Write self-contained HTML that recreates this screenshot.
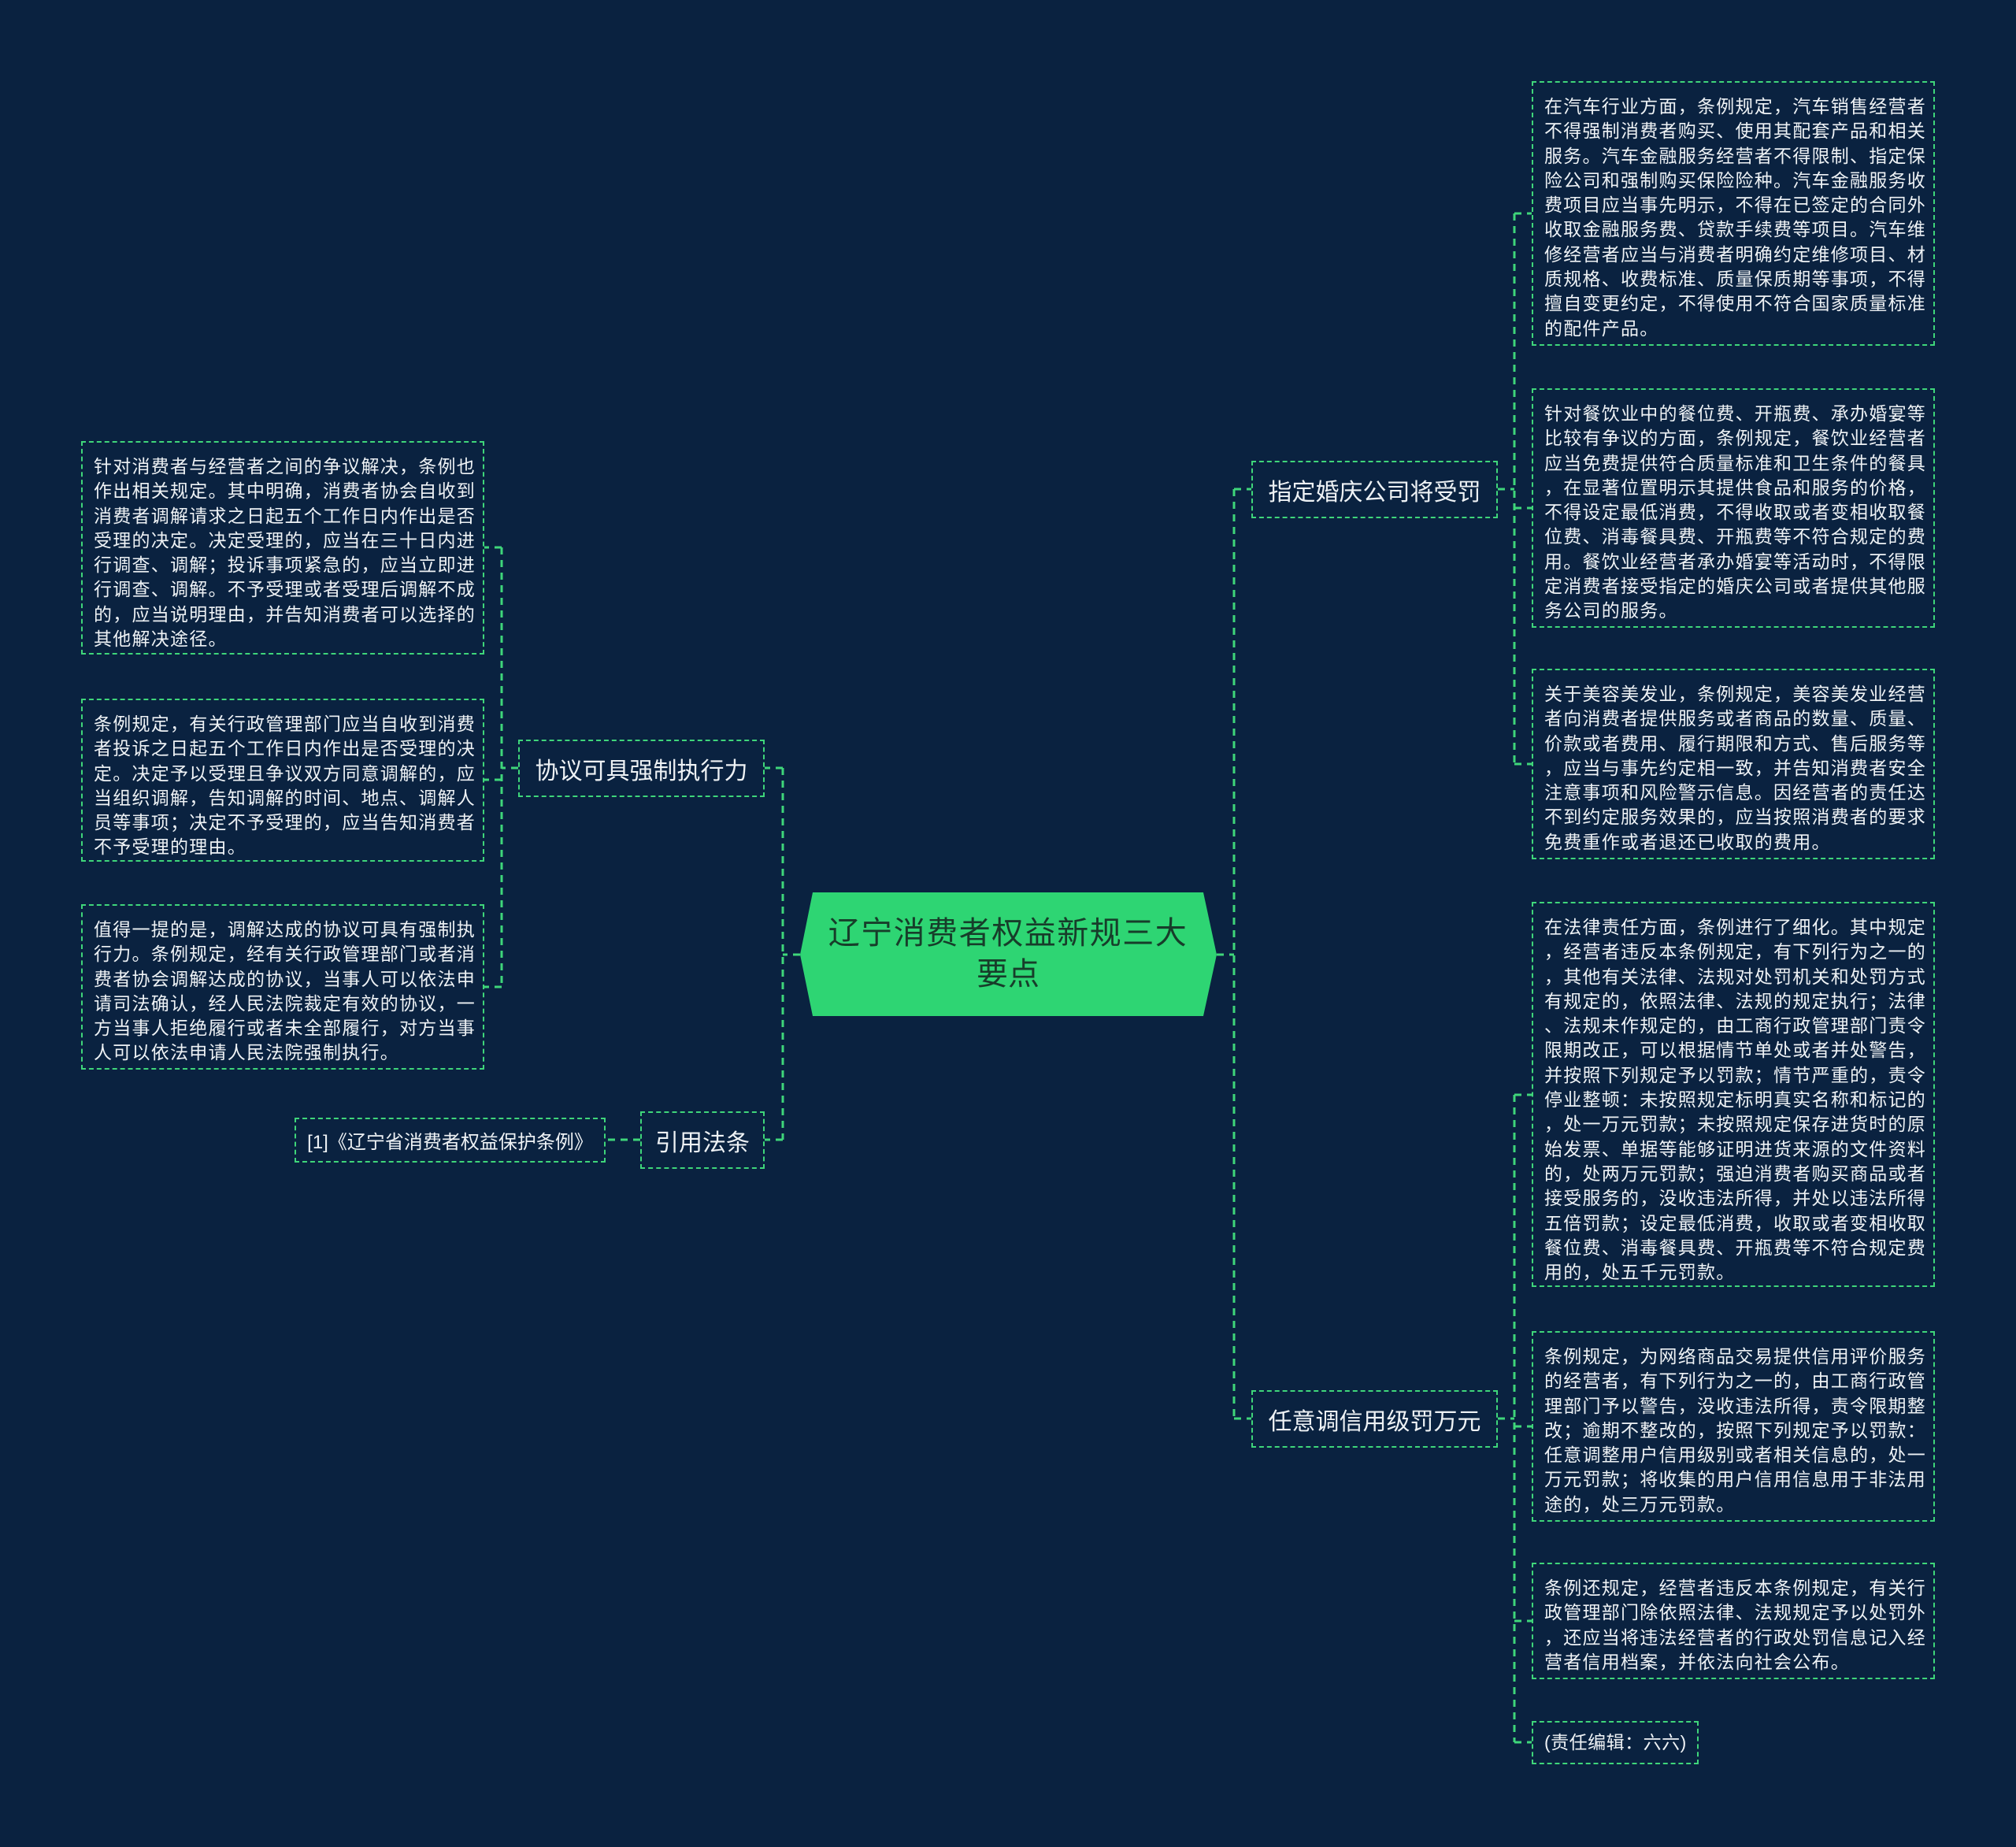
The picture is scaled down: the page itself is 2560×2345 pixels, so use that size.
<!DOCTYPE html>
<html><head><meta charset="utf-8"><style>
html,body{margin:0;padding:0;}
body{width:2560px;height:2345px;background:#0a2240;position:relative;overflow:hidden;font-family:"Liberation Sans","Noto Sans CJK SC",sans-serif;}
.b{position:absolute;box-sizing:border-box;border:2px dashed #3fd67a;color:#eef2f5;}
.leaf{font-size:23px;letter-spacing:1.25px;line-height:31.3px;padding:15px 0 0 14px;white-space:nowrap;}
.l1{font-size:30px;display:flex;align-items:center;justify-content:center;white-space:nowrap;}
svg{position:absolute;left:0;top:0;}
</style></head><body>
<svg width="2560" height="2345">
<g stroke="#3fd67a" stroke-width="3" fill="none" stroke-dasharray="9 7">
<path d="M1016 1212 H994 M994 975 V1447 M994 975 H971 M994 1447 H971"/>
<path d="M1545 1212 H1567 M1567 621 V1801 M1567 621 H1589 M1567 1801 H1589"/>
<path d="M1902 621 H1923 M1923 271 V970 M1923 271 H1945 M1923 645 H1945 M1923 970 H1945"/>
<path d="M1902 1801 H1923 M1923 1390 V2212 M1923 1390 H1945 M1923 1811 H1945 M1923 2058 H1945 M1923 2212 H1945"/>
<path d="M658 975 H637 M637 695 V1253 M637 695 H615 M637 990 H615 M637 1253 H615"/>
<path d="M813 1447 H769"/>
</g>
<polygon points="1032,1133 1528,1133 1545,1212 1528,1290 1032,1290 1016,1212" fill="#2ed573"/>
<text x="1280" y="1198" text-anchor="middle" font-size="40" letter-spacing="1.5" fill="#173d2a" font-family="Liberation Sans, Noto Sans CJK SC, sans-serif">辽宁消费者权益新规三大</text>
<text x="1280" y="1250" text-anchor="middle" font-size="40" fill="#173d2a" font-family="Liberation Sans, Noto Sans CJK SC, sans-serif">要点</text>
</svg>

<div class="b l1" style="left:1589px;top:585px;width:313px;height:73px;">指定婚庆公司将受罚</div>
<div class="b l1" style="left:1589px;top:1765px;width:313px;height:73px;">任意调信用级罚万元</div>
<div class="b l1" style="left:658px;top:939px;width:313px;height:73px;">协议可具强制执行力</div>
<div class="b l1" style="left:813px;top:1411px;width:158px;height:73px;">引用法条</div>
<div class="b l1" style="left:374px;top:1419px;width:395px;height:57px;font-size:24px;">[1]《辽宁省消费者权益保护条例》</div>

<div class="b leaf" style="left:1945px;top:103px;width:512px;height:336px;">在汽车行业方面，条例规定，汽车销售经营者<br>不得强制消费者购买、使用其配套产品和相关<br>服务。汽车金融服务经营者不得限制、指定保<br>险公司和强制购买保险险种。汽车金融服务收<br>费项目应当事先明示，不得在已签定的合同外<br>收取金融服务费、贷款手续费等项目。汽车维<br>修经营者应当与消费者明确约定维修项目、材<br>质规格、收费标准、质量保质期等事项，不得<br>擅自变更约定，不得使用不符合国家质量标准<br>的配件产品。</div>
<div class="b leaf" style="left:1945px;top:493px;width:512px;height:304px;">针对餐饮业中的餐位费、开瓶费、承办婚宴等<br>比较有争议的方面，条例规定，餐饮业经营者<br>应当免费提供符合质量标准和卫生条件的餐具<br>，在显著位置明示其提供食品和服务的价格，<br>不得设定最低消费，不得收取或者变相收取餐<br>位费、消毒餐具费、开瓶费等不符合规定的费<br>用。餐饮业经营者承办婚宴等活动时，不得限<br>定消费者接受指定的婚庆公司或者提供其他服<br>务公司的服务。</div>
<div class="b leaf" style="left:1945px;top:849px;width:512px;height:242px;">关于美容美发业，条例规定，美容美发业经营<br>者向消费者提供服务或者商品的数量、质量、<br>价款或者费用、履行期限和方式、售后服务等<br>，应当与事先约定相一致，并告知消费者安全<br>注意事项和风险警示信息。因经营者的责任达<br>不到约定服务效果的，应当按照消费者的要求<br>免费重作或者退还已收取的费用。</div>
<div class="b leaf" style="left:1945px;top:1145px;width:512px;height:489px;">在法律责任方面，条例进行了细化。其中规定<br>，经营者违反本条例规定，有下列行为之一的<br>，其他有关法律、法规对处罚机关和处罚方式<br>有规定的，依照法律、法规的规定执行；法律<br>、法规未作规定的，由工商行政管理部门责令<br>限期改正，可以根据情节单处或者并处警告，<br>并按照下列规定予以罚款；情节严重的，责令<br>停业整顿：未按照规定标明真实名称和标记的<br>，处一万元罚款；未按照规定保存进货时的原<br>始发票、单据等能够证明进货来源的文件资料<br>的，处两万元罚款；强迫消费者购买商品或者<br>接受服务的，没收违法所得，并处以违法所得<br>五倍罚款；设定最低消费，收取或者变相收取<br>餐位费、消毒餐具费、开瓶费等不符合规定费<br>用的，处五千元罚款。</div>
<div class="b leaf" style="left:1945px;top:1690px;width:512px;height:242px;">条例规定，为网络商品交易提供信用评价服务<br>的经营者，有下列行为之一的，由工商行政管<br>理部门予以警告，没收违法所得，责令限期整<br>改；逾期不整改的，按照下列规定予以罚款：<br>任意调整用户信用级别或者相关信息的，处一<br>万元罚款；将收集的用户信用信息用于非法用<br>途的，处三万元罚款。</div>
<div class="b leaf" style="left:1945px;top:1984px;width:512px;height:148px;">条例还规定，经营者违反本条例规定，有关行<br>政管理部门除依照法律、法规规定予以处罚外<br>，还应当将违法经营者的行政处罚信息记入经<br>营者信用档案，并依法向社会公布。</div>
<div class="b leaf" style="left:1945px;top:2185px;width:212px;height:55px;padding-top:10px;letter-spacing:0.5px;">(责任编辑：六六)</div>

<div class="b leaf" style="left:103px;top:560px;width:512px;height:271px;">针对消费者与经营者之间的争议解决，条例也<br>作出相关规定。其中明确，消费者协会自收到<br>消费者调解请求之日起五个工作日内作出是否<br>受理的决定。决定受理的，应当在三十日内进<br>行调查、调解；投诉事项紧急的，应当立即进<br>行调查、调解。不予受理或者受理后调解不成<br>的，应当说明理由，并告知消费者可以选择的<br>其他解决途径。</div>
<div class="b leaf" style="left:103px;top:887px;width:512px;height:207px;">条例规定，有关行政管理部门应当自收到消费<br>者投诉之日起五个工作日内作出是否受理的决<br>定。决定予以受理且争议双方同意调解的，应<br>当组织调解，告知调解的时间、地点、调解人<br>员等事项；决定不予受理的，应当告知消费者<br>不予受理的理由。</div>
<div class="b leaf" style="left:103px;top:1148px;width:512px;height:210px;">值得一提的是，调解达成的协议可具有强制执<br>行力。条例规定，经有关行政管理部门或者消<br>费者协会调解达成的协议，当事人可以依法申<br>请司法确认，经人民法院裁定有效的协议，一<br>方当事人拒绝履行或者未全部履行，对方当事<br>人可以依法申请人民法院强制执行。</div>
</body></html>
